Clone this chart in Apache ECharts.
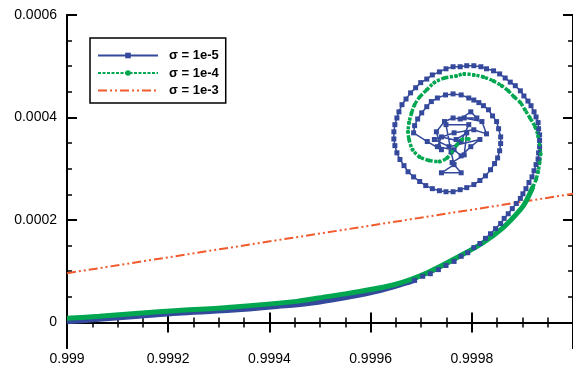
<!DOCTYPE html>
<html>
<head>
<meta charset="utf-8">
<script src="https://cdn.jsdelivr.net/npm/echarts@6/dist/echarts.min.js"></script>
<style>
  html, body { margin: 0; background: #fff; }
  #chart { width: 573px; height: 368px; }
</style>
</head>
<body>
<div id="chart"></div>
<script>
// tick positions
var xMajor = [0.999, 0.9992, 0.9994, 0.9996, 0.9998];
var xMinor = [0.99905, 0.9991, 0.99915, 0.99925, 0.9993, 0.99935, 0.99945, 0.9995, 0.99955,
              0.99965, 0.9997, 0.99975, 0.99985, 0.9999, 0.99995];
var yMajor = [0, 0.0002, 0.0004, 0.0006];
var yMinor = [0.00005, 0.0001, 0.00015, 0.00025, 0.0003, 0.00035, 0.00045, 0.0005, 0.00055];

// sigma = 1e-5 : lower branch (dense markers -> thick band)
var s5Low = [
  [0.999, 0.000001], [0.999064, 0.000006], [0.999142, 0.000012], [0.99922, 0.000018],
  [0.999317, 0.000023], [0.999415, 0.000031], [0.999493, 0.000039], [0.999576, 0.000053],
  [0.999619, 0.000062], [0.999668, 0.000076], [0.999687, 0.000082]
];
// sigma = 1e-5 : spiral
var s5Spiral = [
  [0.999687, 0.000082], [0.999703, 0.000090], [0.999718, 0.000095], [0.999734, 0.000103],
  [0.999749, 0.000111], [0.999765, 0.000119], [0.999779, 0.000129], [0.999792, 0.000136],
  [0.999804, 0.000146], [0.999816, 0.000154], [0.999827, 0.000164], [0.999837, 0.000173],
  [0.999847, 0.000183], [0.999857, 0.000193], [0.999864, 0.000203], [0.999872, 0.000212],
  [0.999880, 0.000222], [0.999888, 0.000232], [0.999896, 0.000242], [0.999901, 0.000251],
  [0.999907, 0.000261], [0.999913, 0.000273], [0.999919, 0.000284], [0.999923, 0.000296],
  [0.999927, 0.000308], [0.999931, 0.000319], [0.999932, 0.000331], [0.999934, 0.000343],
  [0.999934, 0.000355], [0.999934, 0.000366], [0.999932, 0.000378], [0.999931, 0.000390],
  [0.999927, 0.000401], [0.999923, 0.000411], [0.999917, 0.000423], [0.999911, 0.000432],
  [0.999903, 0.000442], [0.999896, 0.000452], [0.999886, 0.000462], [0.999876, 0.000469],
  [0.999866, 0.000477], [0.999855, 0.000485], [0.999843, 0.000491], [0.999829, 0.000495],
  [0.999818, 0.000499], [0.999804, 0.000501], [0.999790, 0.000501], [0.999777, 0.000499],
  [0.999763, 0.000499], [0.999749, 0.000495], [0.999736, 0.000489], [0.999722, 0.000483],
  [0.999711, 0.000475], [0.999699, 0.000468], [0.999689, 0.000458], [0.999679, 0.000448],
  [0.999670, 0.000436], [0.999662, 0.000425], [0.999656, 0.000411], [0.999652, 0.000399],
  [0.999648, 0.000386], [0.999646, 0.000372], [0.999646, 0.000358], [0.999648, 0.000345],
  [0.999652, 0.000331], [0.999658, 0.000318], [0.999666, 0.000306], [0.999674, 0.000294],
  [0.999685, 0.000284], [0.999697, 0.000275], [0.999709, 0.000267], [0.999722, 0.000261],
  [0.999736, 0.000257], [0.999749, 0.000255], [0.999763, 0.000255], [0.999777, 0.000259],
  [0.999790, 0.000263], [0.999804, 0.000269], [0.999816, 0.000277], [0.999827, 0.000286],
  [0.999837, 0.000298], [0.999845, 0.000310], [0.999851, 0.000321], [0.999855, 0.000335],
  [0.999857, 0.000349], [0.999857, 0.000362], [0.999853, 0.000378], [0.999849, 0.000392],
  [0.999841, 0.000403], [0.999833, 0.000415], [0.999823, 0.000423], [0.999814, 0.000429],
  [0.999804, 0.000434], [0.999794, 0.000438], [0.999779, 0.000444], [0.999763, 0.000446],
  [0.999748, 0.000444], [0.999732, 0.000438], [0.999720, 0.000431], [0.999711, 0.000421],
  [0.999701, 0.000409], [0.999693, 0.000397], [0.999687, 0.000384], [0.999685, 0.000370],
  [0.999712, 0.000353], [0.999740, 0.000337], [0.999730, 0.000372], [0.999746, 0.000392],
  [0.999763, 0.000399], [0.999777, 0.000397], [0.999798, 0.000411], [0.999810, 0.000399],
  [0.999785, 0.000399], [0.999820, 0.000392], [0.999829, 0.000368], [0.999804, 0.000376],
  [0.999765, 0.000370], [0.999726, 0.000357], [0.999755, 0.000343], [0.999816, 0.000357],
  [0.999798, 0.000343], [0.999779, 0.000325], [0.999765, 0.000337], [0.999732, 0.000343],
  [0.999740, 0.000362], [0.999779, 0.000353], [0.999794, 0.000386], [0.999749, 0.000386],
  [0.999759, 0.000333], [0.999765, 0.000308], [0.999740, 0.000292], [0.999779, 0.000292],
  [0.999761, 0.000312], [0.999785, 0.000327], [0.999790, 0.000370], [0.999769, 0.000357]
];

// sigma = 1e-4 : lower branch
var s4Low = [
  [0.999, 0.000008], [0.999064, 0.000012], [0.999142, 0.000018], [0.99922, 0.000023],
  [0.999317, 0.000029], [0.999454, 0.000041], [0.999493, 0.000047], [0.999576, 0.000060],
  [0.999648, 0.000074], [0.999712, 0.000097], [0.999779, 0.000131], [0.999823, 0.000156],
  [0.999862, 0.000185], [0.999896, 0.000220], [0.999907, 0.000236], [0.999921, 0.000265]
];
// sigma = 1e-4 : spiral
var s4Spiral = [
  [0.999921, 0.000265], [0.999927, 0.000279], [0.999931, 0.000294], [0.999934, 0.000312],
  [0.999936, 0.000329], [0.999934, 0.000347], [0.999931, 0.000364], [0.999925, 0.000382],
  [0.999915, 0.000399], [0.999905, 0.000415], [0.999896, 0.000429], [0.999884, 0.000440],
  [0.999872, 0.000452], [0.999859, 0.000462], [0.999843, 0.000471], [0.999823, 0.000479],
  [0.999804, 0.000483], [0.999785, 0.000485], [0.999769, 0.000481], [0.999746, 0.000477],
  [0.999726, 0.000468], [0.999711, 0.000454], [0.999697, 0.000440], [0.999687, 0.000425],
  [0.999681, 0.000409], [0.999676, 0.000390], [0.999674, 0.000372], [0.999676, 0.000357],
  [0.999683, 0.000337], [0.999697, 0.000323], [0.999716, 0.000316], [0.999736, 0.000314],
  [0.999751, 0.000321], [0.999761, 0.000333], [0.999771, 0.000347], [0.999781, 0.000357],
  [0.999794, 0.000358]
];

// sigma = 1e-3 : straight line
var s3Line = [[0.999, 0.000096], [1.0, 0.000251]];

var blue = '#34499c', green = '#00a650', red = '#f15a2b';
var fmt = function (v) { return String(Number(v.toFixed(6))); };
var labelFont = { color: '#000', fontSize: 14, fontFamily: 'Liberation Sans' };

function xAx(pos, ticks, len, width, labels) {
  return {
    type: 'value', position: pos, min: 0.999, max: 1.0,
    axisLine: { show: true, lineStyle: { color: '#000', width: 2 } },
    axisTick: { show: true, inside: true, length: len, customValues: ticks,
                lineStyle: { color: '#000', width: width } },
    axisLabel: Object.assign({ show: labels, customValues: ticks, margin: 4, formatter: fmt }, labelFont),
    splitLine: { show: false }
  };
}
function yAx(pos, ticks, len, width, labels) {
  return {
    type: 'value', position: pos, min: -0.00005, max: 0.0006,
    axisLine: { show: true, lineStyle: { color: '#000', width: 2 } },
    axisTick: { show: true, inside: true, length: len, customValues: ticks,
                lineStyle: { color: '#000', width: width } },
    axisLabel: Object.assign({ show: labels, customValues: ticks, margin: 10, formatter: fmt }, labelFont),
    splitLine: { show: false }
  };
}

var myChart = echarts.init(document.getElementById('chart'));
myChart.setOption({
  animation: false,
  backgroundColor: '#fff',
  grid: { left: 67, right: -8, top: 15, bottom: 20 },
  legend: {
    data: [
      { name: 'σ = 1e-5' },
      { name: 'σ = 1e-4' },
      { name: 'σ = 1e-3', itemStyle: { color: 'rgba(0,0,0,0)', borderWidth: 0 } }
    ],
    orient: 'vertical',
    left: 90, top: 38,
    padding: [10, 7, 5, 7],
    itemWidth: 60, itemHeight: 7, itemGap: 2.5,
    backgroundColor: '#fff',
    borderColor: '#000', borderWidth: 1.5,
    textStyle: { color: '#000', fontSize: 13, fontWeight: 'bold', fontFamily: 'Liberation Sans',
                 lineHeight: 15, padding: [0, 0, 0, 6] }
  },
  xAxis: [
    xAx('bottom', xMajor, 10, 2, true),
    xAx('bottom', xMinor, 5, 1.5, false),
    xAx('top', xMajor, 10, 2, false),
    xAx('top', xMinor, 5, 1.5, false)
  ],
  yAxis: [
    yAx('left', yMajor, 10, 2, true),
    yAx('left', yMinor, 5, 1.5, false),
    yAx('right', yMajor, 10, 2, false),
    yAx('right', yMinor, 5, 1.5, false)
  ],
  series: [
    {
      name: 'σ = 1e-3', type: 'line', data: s3Line, symbol: 'none',
      lineStyle: { color: red, width: 2, type: [9, 3, 2, 3, 2, 3] },
      itemStyle: { color: red }
    },
    {
      name: 'σ = 1e-5', type: 'line', data: s5Spiral, symbol: 'rect', symbolSize: 5,
      lineStyle: { color: blue, width: 1.5 }, itemStyle: { color: blue }
    },
    {
      name: 'σ = 1e-5', type: 'line', data: s5Low, symbol: 'none', smooth: 0.3,
      lineStyle: { color: blue, width: 5 }, itemStyle: { color: blue }
    },
    {
      name: 'σ = 1e-4', type: 'line', data: s4Spiral, symbol: 'circle', symbolSize: 4,
      smooth: 0.3,
      lineStyle: { color: green, width: 3.5, type: [3, 1.5] }, itemStyle: { color: green }
    },
    {
      name: 'σ = 1e-4', type: 'line', data: s4Low, symbol: 'none', smooth: 0.3,
      lineStyle: { color: green, width: 5 }, itemStyle: { color: green }
    }
  ]
});
</script>
</body>
</html>
